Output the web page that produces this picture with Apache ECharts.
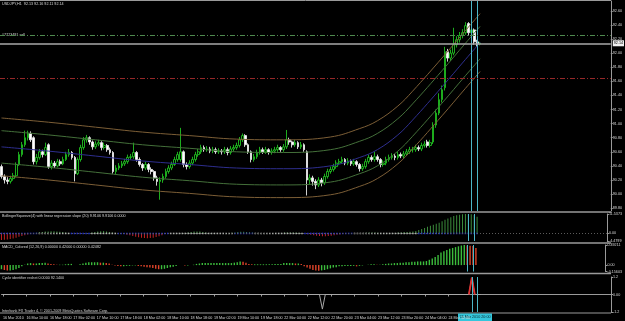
<!DOCTYPE html>
<html>
<head>
<meta charset="utf-8">
<script src="https://cdn.jsdelivr.net/npm/echarts@6/dist/echarts.min.js"></script>
<style>
html,body{margin:0;padding:0;background:#000;}
#chart{width:625px;height:321px;}
</style>
</head>
<body>
<div id="chart"></div>
<script>
// USDJPY H1, 16 Mar 02:00 .. 24 Mar 23:00 (one entry per bar)
var barOpen = [
90.39,90.25,90.20,90.18,90.22,90.26,90.42,90.56,90.70,90.80,
90.86,90.80,90.46,90.52,90.60,90.56,90.70,90.39,90.44,90.40,
90.46,90.43,90.49,90.56,90.59,90.52,90.29,90.49,90.66,90.77,
90.80,90.74,90.67,90.71,90.73,90.66,90.69,90.63,90.59,90.32,
90.37,90.40,90.43,90.46,90.52,90.53,90.59,90.49,90.42,90.37,
90.42,90.35,90.32,90.23,90.18,90.20,90.25,90.32,90.37,90.42,
90.49,90.49,90.60,90.42,90.39,90.44,90.49,90.56,90.60,90.66,
90.63,90.64,90.61,90.63,90.60,90.61,90.60,90.63,90.59,90.64,
90.66,90.69,90.77,90.83,90.70,90.60,90.49,90.53,90.59,90.63,
90.60,90.63,90.59,90.61,90.63,90.66,90.63,90.67,90.77,90.74,
90.70,90.73,90.67,90.70,90.60,90.20,90.23,90.18,90.13,90.20,
90.16,90.25,90.32,90.35,90.39,90.44,90.46,90.49,90.44,90.47,
90.43,90.46,90.42,90.36,90.39,90.46,90.52,90.49,90.53,90.49,
90.42,90.44,90.49,90.52,90.54,90.52,90.56,90.54,90.57,90.60,
90.63,90.63,90.66,90.64,90.69,90.74,90.69,90.74,90.98,91.15,
91.34,91.51,92.02,91.93,92.00,92.12,92.19,92.25,92.29,92.42,
92.29,92.33,92.16,92.13];
var barClose = [
90.25,90.20,90.18,90.22,90.26,90.42,90.56,90.70,90.80,90.86,
90.77,90.46,90.52,90.60,90.56,90.66,90.39,90.44,90.40,90.46,
90.43,90.49,90.56,90.59,90.52,90.29,90.49,90.66,90.77,90.80,
90.74,90.67,90.71,90.73,90.66,90.69,90.63,90.59,90.32,90.37,
90.40,90.43,90.46,90.52,90.53,90.59,90.49,90.42,90.37,90.42,
90.35,90.32,90.23,90.18,90.20,90.25,90.32,90.37,90.42,90.49,
90.56,90.60,90.42,90.39,90.44,90.49,90.56,90.60,90.66,90.63,
90.64,90.61,90.63,90.60,90.61,90.60,90.63,90.59,90.64,90.66,
90.69,90.77,90.83,90.70,90.60,90.49,90.53,90.59,90.63,90.60,
90.63,90.59,90.61,90.63,90.66,90.63,90.67,90.77,90.74,90.70,
90.73,90.67,90.70,90.63,90.20,90.23,90.18,90.13,90.20,90.16,
90.25,90.32,90.35,90.39,90.44,90.46,90.49,90.44,90.47,90.43,
90.46,90.42,90.36,90.39,90.46,90.52,90.49,90.53,90.49,90.42,
90.44,90.49,90.52,90.54,90.52,90.56,90.54,90.57,90.60,90.63,
90.63,90.66,90.64,90.69,90.71,90.69,90.73,90.98,91.15,91.34,
91.48,92.02,91.93,92.00,92.12,92.19,92.25,92.29,92.39,92.29,
92.33,92.16,92.13,92.14];
var barHigh = [
90.42,90.28,90.24,90.26,90.30,90.45,90.60,90.74,90.90,90.90,
90.89,90.82,90.57,90.64,90.63,90.73,90.72,90.48,90.47,90.50,
90.49,90.53,90.60,90.64,90.61,90.54,90.52,90.70,90.81,90.84,
90.82,90.76,90.75,90.77,90.75,90.73,90.71,90.66,90.61,90.41,
90.44,90.47,90.50,90.56,90.57,90.73,90.61,90.52,90.44,90.46,
90.44,90.38,90.34,90.26,90.24,90.29,90.36,90.41,90.46,90.53,
90.60,90.94,90.62,90.45,90.48,90.53,90.60,90.64,90.70,90.69,
90.68,90.67,90.67,90.66,90.65,90.64,90.67,90.66,90.68,90.70,
90.73,90.81,90.86,90.85,90.72,90.62,90.57,90.63,90.67,90.66,
90.67,90.65,90.65,90.67,90.70,90.68,90.71,90.91,90.80,90.76,
90.77,90.75,90.74,90.72,90.62,90.28,90.26,90.21,90.24,90.23,
90.29,90.36,90.39,90.43,90.48,90.50,90.53,90.51,90.51,90.49,
90.50,90.48,90.44,90.43,90.50,90.56,90.55,90.60,90.56,90.51,
90.48,90.53,90.56,90.58,90.57,90.60,90.59,90.61,90.64,90.67,
90.67,90.70,90.69,90.73,90.75,90.77,90.77,91.02,91.20,91.43,
91.54,92.09,92.06,92.05,92.36,92.24,92.30,92.34,92.44,92.44,
92.37,92.35,92.19,92.16];
var barLow = [
90.22,90.15,90.14,90.15,90.19,90.24,90.40,90.53,90.67,90.76,
90.74,90.42,90.42,90.49,90.52,90.54,90.36,90.35,90.37,90.38,
90.40,90.41,90.47,90.53,90.49,90.18,90.27,90.46,90.63,90.73,
90.70,90.63,90.64,90.68,90.62,90.63,90.60,90.56,90.29,90.28,
90.34,90.37,90.40,90.43,90.49,90.50,90.46,90.39,90.33,90.34,
90.31,90.28,90.19,90.12,89.92,90.16,90.22,90.29,90.34,90.40,
90.46,90.46,90.38,90.35,90.36,90.41,90.46,90.53,90.57,90.60,
90.60,90.58,90.58,90.57,90.57,90.56,90.57,90.55,90.56,90.61,
90.63,90.66,90.74,90.67,90.57,90.45,90.46,90.50,90.56,90.57,
90.57,90.56,90.56,90.58,90.60,90.60,90.60,90.64,90.70,90.66,
90.67,90.64,90.64,90.60,89.98,90.14,90.12,90.07,90.10,90.11,
90.13,90.22,90.29,90.32,90.36,90.41,90.43,90.41,90.41,90.40,
90.40,90.39,90.32,90.33,90.36,90.43,90.46,90.46,90.46,90.38,
90.39,90.41,90.46,90.49,90.48,90.49,90.51,90.51,90.54,90.57,
90.59,90.60,90.61,90.61,90.66,90.66,90.66,90.71,90.94,91.12,
91.30,91.47,91.88,91.89,91.97,92.08,92.15,92.21,92.26,92.25,
92.24,92.12,92.09,92.11];

// time scale labels, one every 8 bars
var timeLabels = ['16 Mar 2010','16 Mar 10:00','16 Mar 18:00','17 Mar 02:00','17 Mar 10:00',
  '17 Mar 18:00','18 Mar 02:00','18 Mar 10:00','18 Mar 18:00','19 Mar 02:00','19 Mar 10:00',
  '19 Mar 18:00','22 Mar 04:00','22 Mar 12:00','22 Mar 20:00','23 Mar 04:00','23 Mar 12:00',
  '23 Mar 20:00','24 Mar 04:00','24 Mar 12:00'];
var slotCount = 208;

// regression channel, read at these bars
var chanBars   = [0,16,32,48,64,80,96,112,122,128,135,140,150,158,163];
var chanMid    = [90.67,90.61,90.54,90.47,90.42,90.37,90.36,90.40,90.52,90.63,90.84,91.05,91.52,91.91,92.15];
var chanUp1    = [90.90,90.84,90.77,90.70,90.65,90.60,90.59,90.63,90.75,90.86,91.07,91.28,91.75,92.14,92.38];
var chanUp2    = [91.08,91.02,90.95,90.88,90.83,90.78,90.77,90.81,90.93,91.04,91.25,91.46,91.93,92.32,92.56];
var chanDn1    = [90.44,90.38,90.31,90.24,90.19,90.14,90.13,90.17,90.29,90.40,90.61,90.82,91.29,91.68,91.92];
var chanDn2    = [90.26,90.20,90.13,90.06,90.01,89.96,89.95,89.99,90.11,90.22,90.43,90.64,91.11,91.50,91.74];

var priceTicks = [89.8,90.0,90.2,90.4,90.6,90.8,91.0,91.2,91.4,91.6,91.8,92.0,92.2,92.4,92.6];
var bidPrice = 92.14, sellPrice = 92.245, stopPrice = 91.65;
var cursorBars = [160, 162];

// BollingerSqueeze slope histogram
var squeezeHist = [
-3.9,-3.8,-3.6,-3.3,-3.0,-2.5,-2.0,-1.5,-1.0,-0.6,-0.3,
0.1,0.4,0.7,0.9,1.1,1.2,1.3,1.3,1.2,1.0,0.8,0.5,0.3,
0.1,-0.1,-0.2,-0.2,-0.1,0.1,
0.3,0.6,0.9,1.1,1.3,1.4,1.2,0.9,0.5,
0.2,0.0,-0.1,
-0.3,-0.7,-1.1,-1.5,-1.9,-2.2,-2.5,-2.7,-2.8,-2.7,-2.5,-2.1,-1.6,-1.0,-0.4,
-0.1,0.0,0.1,0.1,0.1,0.2,
0.3,0.6,0.9,1.1,1.2,1.1,0.9,0.6,0.3,
0.2,0.2,0.1,0.1,0.1,0.2,0.3,0.4,0.6,
0.8,1.0,1.0,0.9,0.7,0.5,0.3,0.2,
0.1,0.1,0.1,0.1,0.1,0.2,0.2,0.3,
0.5,0.6,0.6,0.6,0.5,0.4,0.3,
-0.2,-0.5,-0.8,-1.1,-1.3,-1.5,-1.6,-1.6,-1.5,-1.3,-1.1,-0.8,-0.6,-0.4,-0.2,
-0.1,0.0,0.1,0.1,0.2,0.3,0.4,0.5,0.5,0.5,0.4,0.3,0.3,0.3,0.2,0.2,
0.3,0.5,0.6,0.8,0.9,1.0,1.1,1.5,2.0,2.7,3.3,4.0,4.6,5.2,5.8,6.4,7.3,8.1,8.9,9.6,
10.3,10.8,11.1,11.4,11.5,11.54,11.4,11.0,9.9];
var squeezeRanges = [[0,12],[24,30],[40,57],[80,86],[104,120],[143,163]];

// MACD colored histogram
var macdHist = [
-0.10,-0.12,-0.13,-0.13,-0.12,-0.10,-0.07,
-0.03,0.01,0.04,0.05,0.04,0.04,
0.05,0.05,0.06,0.04,0.03,0.02,0.01,0.01,0.01,0.02,0.03,0.03,
0.00,0.00,0.02,0.04,0.06,0.07,
0.07,0.07,0.07,0.06,0.06,0.05,0.04,0.01,-0.01,-0.02,
-0.03,-0.03,-0.02,-0.02,-0.01,-0.01,-0.02,-0.03,-0.04,-0.05,-0.06,-0.07,-0.09,-0.10,-0.10,-0.09,
-0.07,-0.05,-0.04,-0.02,0.00,0.00,-0.01,-0.01,0.00,0.01,0.03,0.04,
0.05,0.05,0.05,0.05,0.05,0.05,0.05,0.05,0.05,0.05,0.05,0.06,0.07,0.09,
0.08,0.06,0.03,0.02,0.02,0.02,0.02,0.02,0.02,0.02,0.02,0.03,0.03,0.03,
0.05,0.05,0.05,0.05,0.04,0.04,0.03,
-0.03,-0.06,-0.09,-0.12,-0.13,-0.14,-0.13,-0.12,-0.10,-0.08,-0.06,-0.05,
-0.03,-0.03,-0.02,-0.02,-0.02,-0.02,-0.03,-0.02,-0.01,0.00,0.01,0.02,0.02,0.01,0.01,0.02,0.03,0.04,0.04,0.05,
0.05,0.06,0.06,0.07,0.07,0.08,0.08,0.09,0.09,0.09,0.10,0.13,0.16,0.20,0.25,0.31,0.34,0.37,0.40,0.42,
0.44,0.46,0.48,0.49,0.48,0.475,0.47,0.42];

// cycle identifier vertices
var cyclePoints = [[0,0],[108,0],[109,-1],[110,0],[159,0],[160,1.15],[161,0],[163,0]];
var cycleTurn = [[159,0],[160,1.15],[161,0]];

var FONT = 'Liberation Sans';
var FS = 3.7;
var txt = '#d8d8d8', frame = '#9a9a9a', cyan = '#4cb6c8';

var cats = [];
for (var i = 0; i < slotCount; i++) {
  cats.push(i % 8 === 0 && i / 8 < timeLabels.length ? timeLabels[i / 8] : '');
}
var candles = barOpen.map(function (o, i) { return [o, barClose[i], barLow[i], barHigh[i]]; });
function pairs(xs, ys) { return xs.map(function (x, i) { return [x, ys[i]]; }); }
function inSqueeze(i) {
  return squeezeRanges.some(function (r) { return i >= r[0] && i <= r[1]; });
}
var squeezeDots = squeezeHist.map(function (v, i) { return [i, 0]; });

function cursorItems() {
  return cursorBars.map(function (b) {
    return {xAxis: b, label: {show: false}, lineStyle: {color: cyan, width: 1, type: 'solid'}};
  });
}
function cursorMark() {
  return {silent: true, symbol: 'none', animation: false, data: cursorItems()};
}

function xAx(idx, show) {
  return {
    type: 'category', gridIndex: idx, data: cats, boundaryGap: true,
    axisLine: {show: show, lineStyle: {color: frame}},
    axisTick: {show: show, alignWithLabel: true, length: 2, lineStyle: {color: frame},
      interval: function (i) { return cats[i] !== ''; }},
    axisLabel: {show: show, fontSize: FS, fontFamily: FONT, color: txt, margin: 3.5, align: 'left',
      interval: function (i) { return cats[i] !== ''; }},
    splitLine: {show: false}
  };
}
function yAx(idx, min, max, ticks, fmt) {
  return {
    type: 'value', gridIndex: idx, position: 'right', min: min, max: max, scale: true,
    axisLine: {show: true, lineStyle: {color: frame}},
    axisTick: {show: true, length: 2, lineStyle: {color: frame}, customValues: ticks},
    axisLabel: {fontSize: FS, fontFamily: FONT, color: txt, margin: 2, customValues: ticks,
      formatter: fmt},
    splitLine: {show: false}
  };
}

var chart = echarts.init(document.getElementById('chart'));
var option = {
  backgroundColor: '#000',
  animation: false,
  grid: [
    {left: 0, right: 14, top: 1, height: 210},
    {left: 0, right: 14, top: 214, height: 27},
    {left: 0, right: 14, top: 245, height: 26.5},
    {left: 0, right: 14, top: 277, height: 35}
  ],
  xAxis: [xAx(0, false), xAx(1, false), xAx(2, false), xAx(3, true)],
  yAxis: [
    yAx(0, 89.76, 92.74, priceTicks, function (v) { return v.toFixed(2); }),
    yAx(1, -4.4799, 11.5373, [-4.4799, 0, 11.5373], function (v) { return v === 0 ? '0.00' : v.toFixed(4); }),
    yAx(2, -0.15603, 0.49211, [-0.15603, 0, 0.49211], function (v) { return v === 0 ? '0.00' : v.toFixed(5); }),
    yAx(3, -1.2, 1.2, [-1.2, 0, 1.2], function (v) { return v === 0 ? '0.00' : v.toFixed(1); })
  ],
  series: [
    {type: 'line', xAxisIndex: 0, yAxisIndex: 0, data: pairs(chanBars, chanUp2), smooth: 0.4, symbol: 'none', lineStyle: {color: '#7c5e36', width: 1}},
    {type: 'line', xAxisIndex: 0, yAxisIndex: 0, data: pairs(chanBars, chanUp1), smooth: 0.4, symbol: 'none', lineStyle: {color: '#44703a', width: 1}},
    {type: 'line', xAxisIndex: 0, yAxisIndex: 0, data: pairs(chanBars, chanMid), smooth: 0.4, symbol: 'none', lineStyle: {color: '#2e2e8e', width: 1},
      markLine: cursorMark()},
    {type: 'line', xAxisIndex: 0, yAxisIndex: 0, data: pairs(chanBars, chanDn1), smooth: 0.4, symbol: 'none', lineStyle: {color: '#44703a', width: 1}},
    {type: 'line', xAxisIndex: 0, yAxisIndex: 0, data: pairs(chanBars, chanDn2), smooth: 0.4, symbol: 'none', lineStyle: {color: '#7c5e36', width: 1}},
    {
      type: 'candlestick', xAxisIndex: 0, yAxisIndex: 0, data: candles, barWidth: 2.2,
      itemStyle: {color: '#000', borderColor: '#20c020', color0: '#ffffff', borderColor0: '#e8e8e8', borderWidth: 0.9},
      markLine: {
        silent: true, symbol: 'none', animation: false,
        data: [
          {yAxis: sellPrice, label: {show: false}, lineStyle: {color: '#4f8a4f', width: 1, type: [5, 2, 1, 2]}},
          {yAxis: stopPrice, label: {show: false}, lineStyle: {color: '#962828', width: 1, type: [5, 2, 1, 2]}},
          {yAxis: bidPrice, lineStyle: {color: '#a8a8a8', width: 1.6, type: 'solid'},
            label: {show: true, position: 'end', distance: 2, formatter: bidPrice.toFixed(2),
              color: '#000', backgroundColor: '#f0f0f0', fontSize: FS, fontFamily: FONT, padding: [1, 1]}}
        ]
      }
    },
    {
      type: 'bar', xAxisIndex: 1, yAxisIndex: 1, data: squeezeHist, barWidth: 1,
      itemStyle: {color: function (p) { return p.value >= 0 ? '#3c8c3c' : '#c42424'; }},
      markLine: {
        silent: true, symbol: 'none', animation: false,
        data: [{yAxis: 0, label: {show: false}, lineStyle: {color: '#5a5a5a', width: 1, type: [1, 2]}}].concat(cursorItems())
      }
    },
    {
      type: 'scatter', xAxisIndex: 1, yAxisIndex: 1, data: squeezeDots, symbol: 'rect', symbolSize: [1.6, 1.6],
      itemStyle: {color: function (p) { return inSqueeze(p.dataIndex) ? '#2a3cf0' : '#d0d0d0'; }}
    },
    {
      type: 'bar', xAxisIndex: 2, yAxisIndex: 2, data: macdHist, barWidth: 1.4,
      itemStyle: {color: function (p) {
        var prev = p.dataIndex > 0 ? macdHist[p.dataIndex - 1] : p.value;
        return p.value >= prev ? '#3cbc3c' : '#e0442a';
      }},
      markLine: cursorMark()
    },
    {
      type: 'line', xAxisIndex: 3, yAxisIndex: 3, data: cyclePoints, symbol: 'none',
      lineStyle: {color: '#a8a8a8', width: 1}, markLine: cursorMark()
    },
    {
      type: 'line', xAxisIndex: 3, yAxisIndex: 3, data: cycleTurn, symbol: 'none',
      lineStyle: {color: '#e03030', width: 1.8}
    }
  ],
  graphic: [
    // panel frames
    {type: 'line', silent: true, shape: {x1: 0, y1: 0.5, x2: 611, y2: 0.5}, style: {stroke: frame, lineWidth: 1}},
    {type: 'line', silent: true, shape: {x1: 0, y1: 212, x2: 611, y2: 212}, style: {stroke: frame, lineWidth: 1.5}},
    {type: 'line', silent: true, shape: {x1: 0, y1: 243, x2: 611, y2: 243}, style: {stroke: frame, lineWidth: 1.5}},
    {type: 'line', silent: true, shape: {x1: 0, y1: 273.5, x2: 611, y2: 273.5}, style: {stroke: frame, lineWidth: 1.5}},
    {type: 'line', silent: true, shape: {x1: 0, y1: 313, x2: 611, y2: 313}, style: {stroke: frame, lineWidth: 1.2}},
    // captions
    {type: 'text', left: 2, top: 2, silent: true, style: {text: 'USDJPY,H1  92.13 92.16 92.11 92.14', fill: txt, font: FS + 'px "' + FONT + '"'}},
    {type: 'text', left: 2, top: 33, silent: true, style: {text: '#7723491 sell', fill: txt, font: FS + 'px "' + FONT + '"'}},
    {type: 'text', left: 2, top: 214, silent: true, style: {text: 'BollingerSqueeze(4) with linear regression slope (20) 9.9106 9.9106 0.0000', fill: txt, font: FS + 'px "' + FONT + '"'}},
    {type: 'text', left: 2, top: 245, silent: true, style: {text: 'MACD_Colored (12,26,9) 0.00000 0.42000 0.00000 0.42482', fill: txt, font: FS + 'px "' + FONT + '"'}},
    {type: 'text', left: 2, top: 276, silent: true, style: {text: 'Cycle identifier reshet 0.0000 92.1400', fill: txt, font: FS + 'px "' + FONT + '"'}},
    {type: 'text', left: 2, top: 308.5, silent: true, style: {text: 'Interbank FX Trader 4, \u00a9 2001-2009 MetaQuotes Software Corp.', fill: txt, font: FS + 'px "' + FONT + '"'}},
    // cursor time box
    {type: 'group', left: 458, top: 313.5, silent: true, children: [
      {type: 'rect', shape: {x: 0, y: 0, width: 34, height: 7.5}, style: {fill: '#34c6dc'}},
      {type: 'text', x: 17, y: 3.9, style: {text: '24 Mar 2010 20:00', fill: '#0a2a30', align: 'center', verticalAlign: 'middle', font: FS + 'px "' + FONT + '"'}}
    ]}
  ]
};
chart.setOption(option);
</script>
</body>
</html>
